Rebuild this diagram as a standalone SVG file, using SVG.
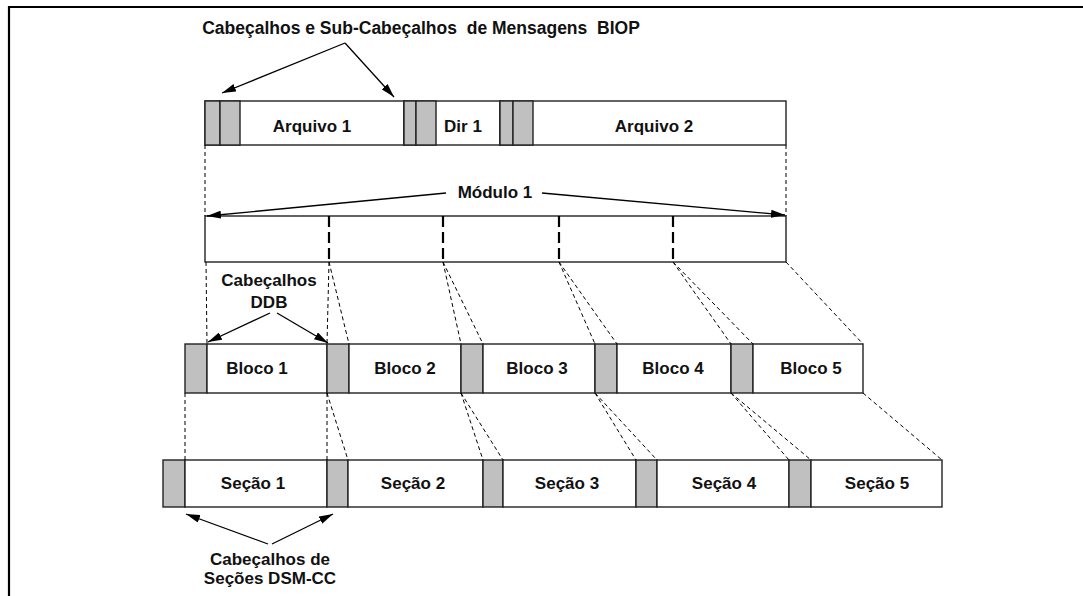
<svg xmlns="http://www.w3.org/2000/svg" width="1083" height="596" viewBox="0 0 1083 596">
<defs>
<style>
.box{fill:#fff;stroke:#222;stroke-width:1.4}
.hdr{fill:#c0c0c0;stroke:#222;stroke-width:1.4}
.t{font-family:"Liberation Sans",Arial,sans-serif;font-weight:bold;font-size:17px;text-anchor:middle;fill:#111;white-space:pre}
.dash{stroke:#000;stroke-width:1;stroke-dasharray:4 3;fill:none}
.div{stroke:#000;stroke-width:2.2;stroke-dasharray:11 5;fill:none}
.arr{stroke:#000;stroke-width:1.3;fill:none;marker-end:url(#ah)}
</style>
<marker id="ah" viewBox="0 0 14 8" refX="14" refY="4" markerWidth="14" markerHeight="8" orient="auto" markerUnits="userSpaceOnUse"><path d="M0,0 L14,4 L0,8 z" fill="#000"/></marker>
</defs>
<rect width="1083" height="596" fill="#fff"/>
<path d="M9,596 V7 H1083" fill="none" stroke="#000" stroke-width="2.2"/>

<g id="titulo"><text class="t" x="421" y="34" style="font-size:17.5px" xml:space="preserve">Cabeçalhos e Sub-Cabeçalhos  de Mensagens  BIOP</text></g>

<g id="arquivo1">
<rect class="box" x="205" y="101" width="199" height="44"/>
<rect class="hdr" x="205" y="101" width="15" height="44"/>
<rect class="hdr" x="220" y="101" width="20" height="44"/>
<text class="t" x="312" y="132">Arquivo 1</text>
</g>
<g id="dir1">
<rect class="box" x="404" y="101" width="96" height="44"/>
<rect class="hdr" x="404" y="101" width="12" height="44"/>
<rect class="hdr" x="416" y="101" width="20" height="44"/>
<text class="t" x="463" y="132">Dir 1</text>
</g>
<g id="arquivo2">
<rect class="box" x="500" y="101" width="286" height="44"/>
<rect class="hdr" x="500" y="101" width="13" height="44"/>
<rect class="hdr" x="513" y="101" width="20" height="44"/>
<text class="t" x="654" y="132">Arquivo 2</text>
</g>

<g id="modulo1">
<rect class="box" x="205" y="216" width="581" height="46"/>
<text class="t" x="495" y="198">Módulo 1</text>
<path class="div" d="M329,216 V262 M443,216 V262 M559,216 V262 M673,216 V262"/>
</g>

<g id="ddb-label"><text class="t" x="269" y="286">Cabeçalhos</text><text class="t" x="269" y="308">DDB</text></g>

<g id="bloco1"><rect class="hdr" x="185" y="344" width="22" height="49"/><rect class="box" x="207" y="344" width="120" height="49"/><text class="t" x="257" y="374">Bloco 1</text></g>
<g id="bloco2"><rect class="hdr" x="327" y="344" width="22" height="49"/><rect class="box" x="349" y="344" width="112" height="49"/><text class="t" x="405" y="374">Bloco 2</text></g>
<g id="bloco3"><rect class="hdr" x="461" y="344" width="22" height="49"/><rect class="box" x="483" y="344" width="112" height="49"/><text class="t" x="537" y="374">Bloco 3</text></g>
<g id="bloco4"><rect class="hdr" x="595" y="344" width="22" height="49"/><rect class="box" x="617" y="344" width="114" height="49"/><text class="t" x="673" y="374">Bloco 4</text></g>
<g id="bloco5"><rect class="hdr" x="731" y="344" width="22" height="49"/><rect class="box" x="753" y="344" width="110" height="49"/><text class="t" x="811" y="374">Bloco 5</text></g>

<g id="secao1"><rect class="hdr" x="163" y="460" width="22" height="47"/><rect class="box" x="185" y="460" width="142" height="47"/><text class="t" x="253" y="489">Seção 1</text></g>
<g id="secao2"><rect class="hdr" x="327" y="460" width="21" height="47"/><rect class="box" x="348" y="460" width="135" height="47"/><text class="t" x="413" y="489">Seção 2</text></g>
<g id="secao3"><rect class="hdr" x="483" y="460" width="20" height="47"/><rect class="box" x="503" y="460" width="133" height="47"/><text class="t" x="567" y="489">Seção 3</text></g>
<g id="secao4"><rect class="hdr" x="636" y="460" width="21" height="47"/><rect class="box" x="657" y="460" width="132" height="47"/><text class="t" x="724" y="489">Seção 4</text></g>
<g id="secao5"><rect class="hdr" x="789" y="460" width="22" height="47"/><rect class="box" x="811" y="460" width="131" height="47"/><text class="t" x="877" y="489">Seção 5</text></g>

<g id="dsmcc-label"><text class="t" x="270" y="565">Cabeçalhos de</text><text class="t" x="270" y="584">Seções DSM-CC</text></g>

<g id="connectors">
<path class="dash" d="M205,145 V216 M786,145 V216"/>
<path class="dash" d="M206,262 L207,344 M329,262 L327,344 M329,262 L349,344 M443,262 L461,344 M443,262 L483,344 M559,262 L595,344 M559,262 L617,344 M673,262 L731,344 M673,262 L753,344 M786,262 L863,344"/>
<path class="dash" d="M185,393 V460 M327,393 V460 M327,393 L348,460 M461,393 L483,460 M461,393 L503,460 M595,393 L636,460 M595,393 L657,460 M731,393 L789,460 M731,393 L811,460 M863,393 L942,460"/>
<path class="arr" d="M345,43 L222,93"/>
<path class="arr" d="M345,43 L394,97"/>
<path class="arr" d="M446,193 L207,216"/>
<path class="arr" d="M542,193 L785,215"/>
<path class="arr" d="M270,313 L208,342"/>
<path class="arr" d="M277,313 L328,343"/>
<path class="arr" d="M268,544 L186,514"/>
<path class="arr" d="M272,544 L333,514"/>
</g>
</svg>
